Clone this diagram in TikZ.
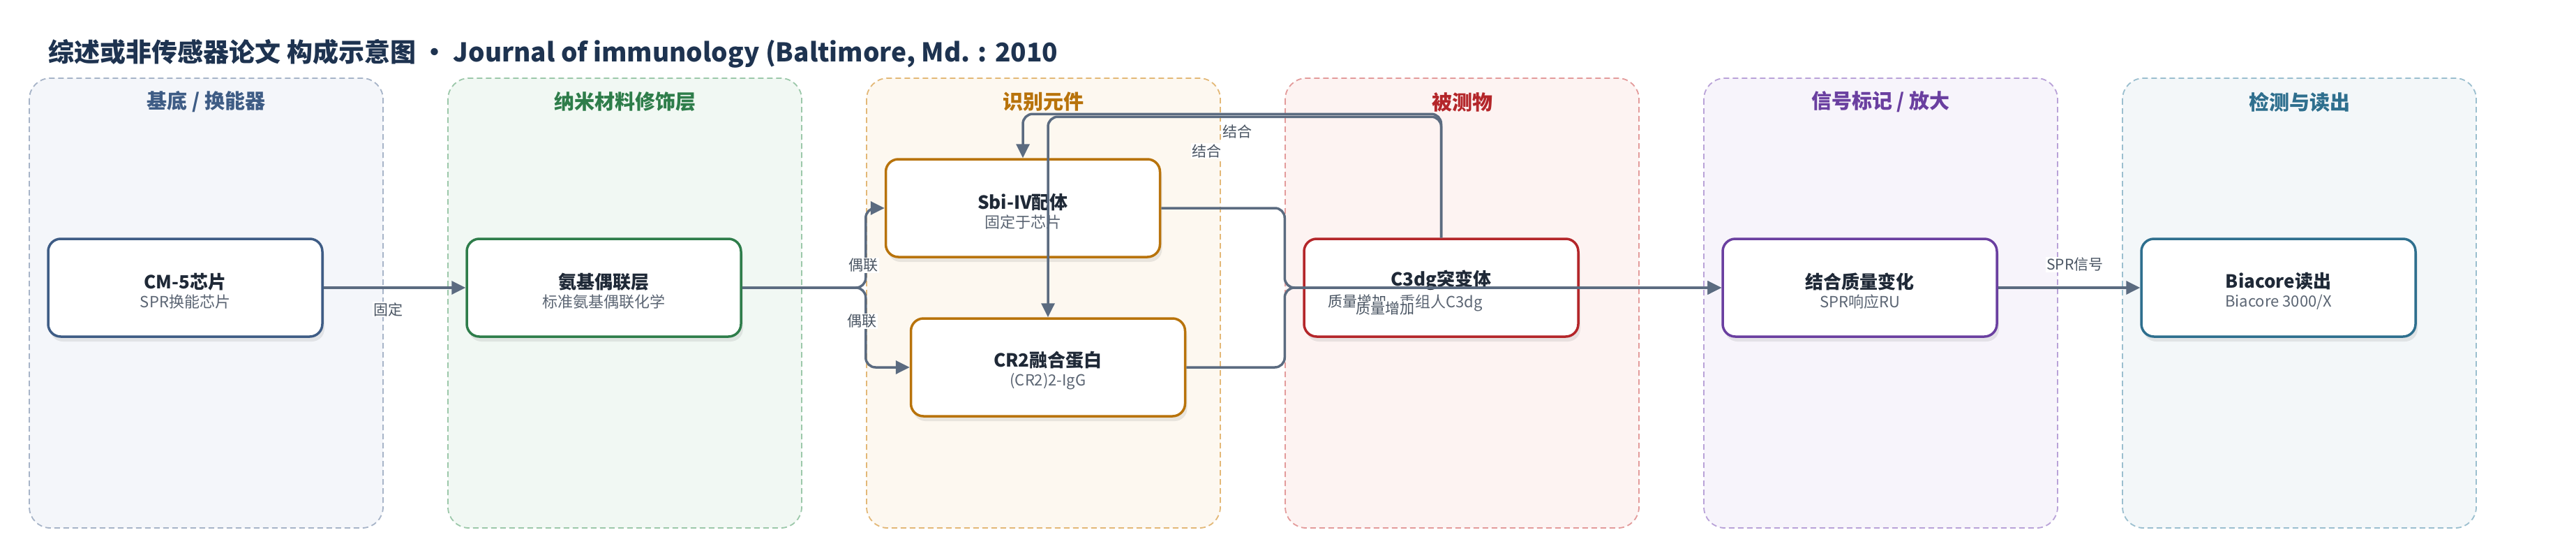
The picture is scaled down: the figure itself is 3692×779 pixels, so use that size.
\documentclass[tikz,border=0pt]{standalone}
\usepackage{fontspec}
\setmainfont{Noto Sans CJK SC}
\usetikzlibrary{arrows.meta,shadows}
\definecolor{edgec}{HTML}{5B6B80}
\definecolor{titleink}{HTML}{1E3350}
\definecolor{nodeink}{HTML}{1F2937}
\definecolor{subink}{HTML}{5B6573}
\definecolor{labink}{HTML}{4A5563}
\definecolor{cA}{HTML}{3E5C85}\definecolor{fA}{HTML}{F4F6FA}\definecolor{bA}{HTML}{A7B4C8}
\definecolor{cB}{HTML}{2E7D4A}\definecolor{fB}{HTML}{F1F8F3}\definecolor{bB}{HTML}{9CC8AA}
\definecolor{cC}{HTML}{B8730B}\definecolor{fC}{HTML}{FDF8F0}\definecolor{bC}{HTML}{E3B877}
\definecolor{cD}{HTML}{B4262A}\definecolor{fD}{HTML}{FDF3F2}\definecolor{bD}{HTML}{E39B9B}
\definecolor{cE}{HTML}{6A3FA0}\definecolor{fE}{HTML}{F7F4FB}\definecolor{bE}{HTML}{B9A2D8}
\definecolor{cF}{HTML}{2E6F8E}\definecolor{fF}{HTML}{F3F7F9}\definecolor{bF}{HTML}{9BBFCF}
\newcommand\ndtitle[1]{{\fontsize{26}{30}\selectfont\bfseries\color{nodeink}\rule{0pt}{32pt}#1}}
\newcommand\ndsub[1]{{\fontsize{22}{26}\selectfont\color{subink}#1}}
\tikzset{
  lane/.style={dash pattern=on 8pt off 5pt, line width=1.8pt, rounded corners=30pt},
  lanetitle/.style={font=\fontsize{29}{34}\selectfont\bfseries},
  box/.style={draw, line width=3.5pt, fill=white, rounded corners=18pt,
    minimum width=393pt, minimum height=140pt, align=center, inner sep=0pt,
    drop shadow={opacity=0.16, shadow xshift=3pt, shadow yshift=-7pt}},
  conn/.style={draw=edgec, line width=3.5pt, rounded corners=14pt,
    -{Triangle[length=20pt,width=19pt]}},
  elabel/.style={fill=white, inner sep=1.5pt, text=labink, font=\fontsize{21}{24}\selectfont}
}
\begin{document}
\begin{tikzpicture}[x=1pt,y=-1pt]
\useasboundingbox[fill=white] (0,0) rectangle (3692,779);
% title
\node[anchor=west, text=titleink, font=\fontsize{37}{44}\selectfont\bfseries] (ttl) at (66,77)
  {综述或非传感器论文 构成示意图 • Journal of immunology (Baltimore, Md. : 2010};
% lanes
\draw[lane, fill=fA, draw=bA] (42,112) rectangle (549,756);
\draw[lane, fill=fB, draw=bB] (642,112) rectangle (1149,756);
\draw[lane, fill=fC, draw=bC] (1242,112) rectangle (1749,756);
\draw[lane, fill=fD, draw=bD] (1842,112) rectangle (2349,756);
\draw[lane, fill=fE, draw=bE] (2442,112) rectangle (2949,756);
\draw[lane, fill=fF, draw=bF] (3042,112) rectangle (3549,756);
\node[lanetitle, text=cA] (lt1) at (295.5,146) {基底 / 换能器};
\node[lanetitle, text=cB] (lt2) at (895.5,146) {纳米材料修饰层};
\node[lanetitle, text=cC] (lt3) at (1495.5,146) {识别元件};
\node[lanetitle, text=cD] (lt4) at (2095.5,146) {被测物};
\node[lanetitle, text=cE] (lt5) at (2695.5,146) {信号标记 / 放大};
\node[lanetitle, text=cF] (lt6) at (3295.5,146) {检测与读出};
% nodes
\node[box, draw=cA] (cm5) at (265.5,412) {\ndtitle{CM-5芯片}\\[5pt]\ndsub{SPR换能芯片}};
\node[box, draw=cB] (amino) at (865.5,412) {\ndtitle{氨基偶联层}\\[5pt]\ndsub{标准氨基偶联化学}};
\node[box, draw=cC] (sbi) at (1466,298) {\ndtitle{Sbi-IV配体}\\[5pt]\ndsub{固定于芯片}};
\node[box, draw=cC] (cr2) at (1502,526) {\ndtitle{CR2融合蛋白}\\[5pt]\ndsub{(CR2)2-IgG}};
\node[box, draw=cD] (c3dg) at (2065.5,412) {\ndtitle{C3dg突变体}\\[5pt]\ndsub{重组人C3dg}};
\node[box, draw=cE] (jz) at (2665.5,412) {\ndtitle{结合质量变化}\\[5pt]\ndsub{SPR响应RU}};
\node[box, draw=cF] (bia) at (3265.5,412) {\ndtitle{Biacore读出}\\[5pt]\ndsub{Biacore 3000/X}};
% connectors
\draw[conn] (cm5.east) -- (amino.west);
\draw[conn] (amino.east) -- ++(177,0) |- (sbi.west);
\draw[conn] (amino.east) -- ++(177,0) |- (cr2.west);
\draw[conn] (sbi.east) -- ++(177,0) |- (jz.west);
\draw[conn] (cr2.east) -- ++(141,0) |- (jz.west);
\draw[conn] (c3dg.north) -- ++(0,-177) -| (sbi.north);
\draw[conn] (c3dg.north) -- ++(0,-173) -| (cr2.north);
\draw[conn] (jz.east) -- (bia.west);
% labels
\node[elabel] (l1) at (556,443) {固定};
\node[elabel] (l2) at (1237,380) {偶联};
\node[elabel] (l3) at (1235,460) {偶联};
\node[elabel] (l4) at (1945,432) {质量增加};
\node[elabel] (l5) at (1985,442) {质量增加};
\node[elabel] (l6) at (1773,188) {结合};
\node[elabel] (l7) at (1729,216) {结合};
\node[elabel] (l8) at (2974,379) {SPR信号};
\end{tikzpicture}
\end{document}
